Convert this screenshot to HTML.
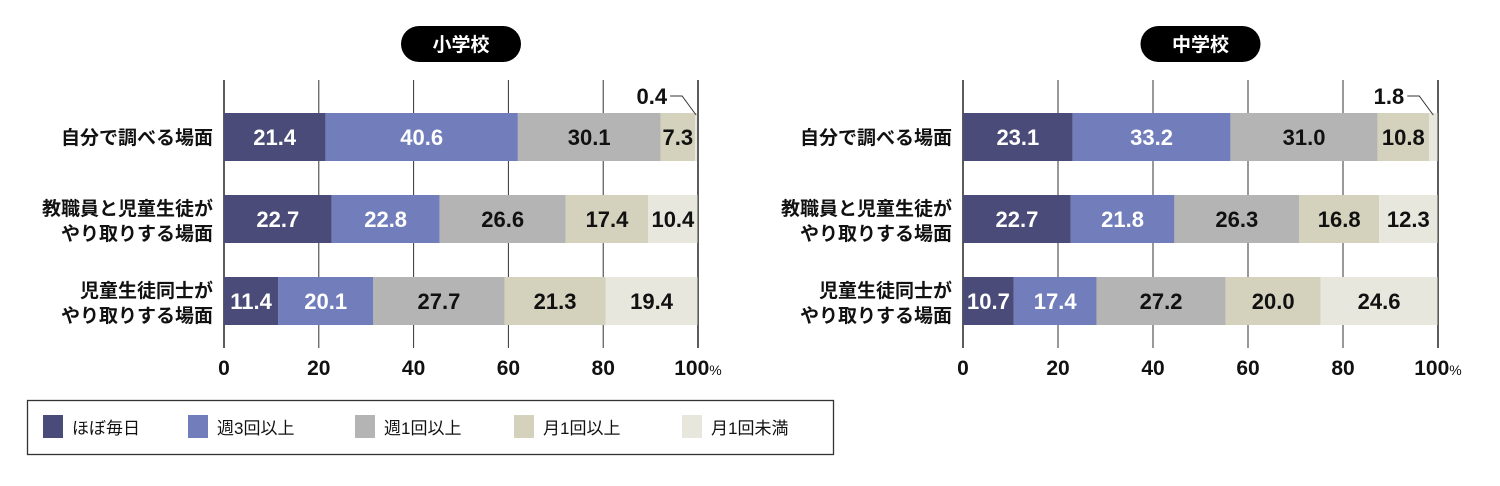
<!DOCTYPE html>
<html><head><meta charset="utf-8"><style>
body{margin:0;background:#fff;width:1500px;height:481px;overflow:hidden}
svg text{font-family:"Liberation Sans","Noto Sans CJK JP",sans-serif}
.num{font-family:"Liberation Sans Narrow","Liberation Sans",sans-serif;font-weight:bold}
</style></head><body>
<svg id="c" width="1500" height="481" xmlns="http://www.w3.org/2000/svg"></svg>
<script>
const categories = ["自分で調べる場面", "教職員と児童生徒が|やり取りする場面", "児童生徒同士が|やり取りする場面"];
const seriesNames = ["ほぼ毎日", "週3回以上", "週1回以上", "月1回以上", "月1回未満"];
const elementary = [[21.4, 40.6, 30.1, 7.3, 0.4], [22.7, 22.8, 26.6, 17.4, 10.4], [11.4, 20.1, 27.7, 21.3, 19.4]];
const juniorHigh = [[23.1, 33.2, 31.0, 10.8, 1.8], [22.7, 21.8, 26.3, 16.8, 12.3], [10.7, 17.4, 27.2, 20.0, 24.6]];
const ticks = [0, 20, 40, 60, 80, 100];
const colors = ["#4a4b78", "#727ebc", "#b4b4b4", "#d4d1bc", "#e7e7dd"];
const textColors = ["#fff", "#fff", "#111", "#111", "#111"];
const NS = "http://www.w3.org/2000/svg";
const svg = document.getElementById("c");
function mk(tag, attrs, parent) { const e = document.createElementNS(NS, tag); for (const k in attrs) e.setAttribute(k, attrs[k]); (parent || svg).appendChild(e); return e; }
const rowTops = [113, 195, 277], barH = 48;
function drawPanel(x0, x1, title, data, key) {
  const g = mk("g", {});
  
  
  const xs = v => x0 + (x1 - x0) * v / 100;
  const cx = (x0 + x1) / 2;
  const pill = mk("rect", { x: cx - 60, y: 26, width: 120, height: 36, rx: 18, fill: "#000" }, g);
  
  
  const tt = mk("text", { x: cx, y: 51, "text-anchor": "middle", fill: "#fff", "font-size": 19, "font-weight": "bold" }, g);
  tt.textContent = title;
  
  
  ticks.forEach(t => {
    const l = mk("line", { x1: xs(t), x2: xs(t), y1: 80, y2: 348, stroke: "#333", "stroke-width": t === 0 || t === 100 ? 1.6 : 1 }, g);
    
    
    const tx = mk("text", { x: xs(t), y: 375, "text-anchor": "middle", "font-size": 21, class: "num", fill: "#111" }, g);
    tx.textContent = t;
    
    
    if (t === 100) { const p = mk("tspan", { "font-size": 14, "font-weight": "normal" }, tx); p.textContent = "%"; }
  });
  data.forEach((row, i) => {
    let acc = 0;
    row.forEach((v, j) => {
      const r = mk("rect", { x: xs(acc), y: rowTops[i], width: xs(acc + v) - xs(acc), height: barH, fill: colors[j] }, g);
      
      
      if (v >= 5) {
        const tx = mk("text", { x: xs(acc + v / 2), y: rowTops[i] + 32, "text-anchor": "middle", "font-size": 22, class: "num", fill: textColors[j] }, g);
        tx.textContent = v.toFixed(1);
        
        
      } else {
        const ex = xs(acc + v / 2);
        const pl = mk("polyline", { points: (ex - 26) + ",96 " + (ex - 14) + ",96 " + ex + "," + (rowTops[i] + 2), fill: "none", stroke: "#333", "stroke-width": 1 }, g);
        
        
        const tx = mk("text", { x: ex - 29, y: 104, "text-anchor": "end", "font-size": 22, class: "num", fill: "#111" }, g);
        tx.textContent = v.toFixed(1);
        
        
      }
      acc += v;
    });
    const lines = categories[i].split("|");
    lines.forEach((ln, k) => {
      const y = lines.length === 1 ? rowTops[i] + 31 : rowTops[i] + 20 + k * 25;
      const tx = mk("text", { x: x0 - 11, y: y, "text-anchor": "end", "font-size": 19, "font-weight": "bold", fill: "#111" }, g);
      tx.textContent = ln;
      
      
    });
  });
}
drawPanel(224, 698, "小学校", elementary, "elementary");
drawPanel(963, 1438, "中学校", juniorHigh, "junior-high");
const lg = mk("g", {});


const box = mk("rect", { x: 27.5, y: 400.5, width: 806, height: 54, fill: "#fff", stroke: "#333", "stroke-width": 1.3 }, lg);


const lx = [43, 188, 355, 514, 682];
seriesNames.forEach((n, j) => {
  const s = mk("rect", { x: lx[j], y: 415, width: 20, height: 23, fill: colors[j] }, lg);
  
  
  const t = mk("text", { x: lx[j] + 29, y: 434, "font-size": 17, fill: "#111" }, lg);
  t.textContent = n;
  
  
});
</script>
</body></html>
